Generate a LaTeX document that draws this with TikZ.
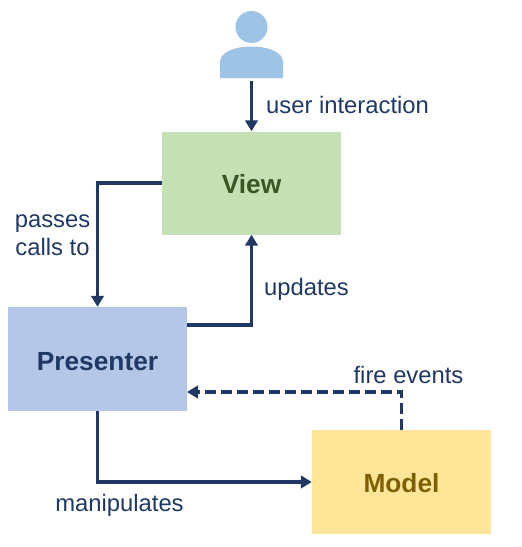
\documentclass[tikz,border=0pt]{standalone}
\usepackage{fontspec}
\setmainfont{Liberation Sans}
\usetikzlibrary{arrows.meta}
\definecolor{navy}{HTML}{1F3864}
\definecolor{viewfill}{RGB}{197,224,180}
\definecolor{viewtext}{RGB}{56,87,35}
\definecolor{presfill}{RGB}{180,199,231}
\definecolor{modelfill}{RGB}{255,230,153}
\definecolor{modeltext}{RGB}{127,96,0}
\definecolor{personfill}{RGB}{157,195,230}
\tikzset{
 conn/.style={draw=navy,line width=3.4pt,-{Triangle[length=11pt,width=12.5pt]}},
 boxn/.style={minimum width=179pt,inner sep=0pt,text height=21pt,text depth=0pt,font=\bfseries\fontsize{26.3}{30}\selectfont},
 lab/.style={text=navy,font=\fontsize{23.8}{28}\selectfont,inner sep=0pt,align=center},
}
\begin{document}
\begin{tikzpicture}[x=1pt,y=-1pt]
\useasboundingbox (0,0) rectangle (522,547);
\node[boxn,minimum height=103pt,fill=viewfill,text=viewtext] (view) at (251.5,183) {View};
\node[boxn,minimum height=104pt,text height=22.5pt,fill=presfill,text=navy] (pres) at (97.5,359) {Presenter};
\node[boxn,minimum height=104pt,fill=modelfill,text=modeltext] (model) at (401.5,482) {Model};
\fill[personfill] (251.5,27) circle (16pt);
\fill[personfill] (220,78) -- (220,62) .. controls (220,52) and (235,46.5) .. (251.5,46.5) .. controls (268,46.5) and (283,52) .. (283,62) -- (283,78) -- cycle;
\coordinate (user) at (251.5,80.5);
\draw[conn] (user) -- (view.north);
\draw[conn] (view.west) -| (pres.north);
\coordinate (pe) at (187,325);
\draw[conn] (pe) -| (view.south);
\draw[conn] (pres.south) |- (model.west);
\coordinate (ms) at (401.5,430);
\coordinate (pd) at (187,392);
\draw[conn,dash pattern=on 11pt off 5pt] (ms) |- (pd);
\node[lab,anchor=west] (l1) at (266,105) {user interaction};
\node[lab] (l2) at (52.5,235) {passes\\calls to};
\node[lab,anchor=west] (l3) at (264,289) {updates};
\node[lab] (l4) at (408.5,375) {fire events};
\node[lab] (l5) at (119.5,505) {manipulates};
\end{tikzpicture}
\end{document}
